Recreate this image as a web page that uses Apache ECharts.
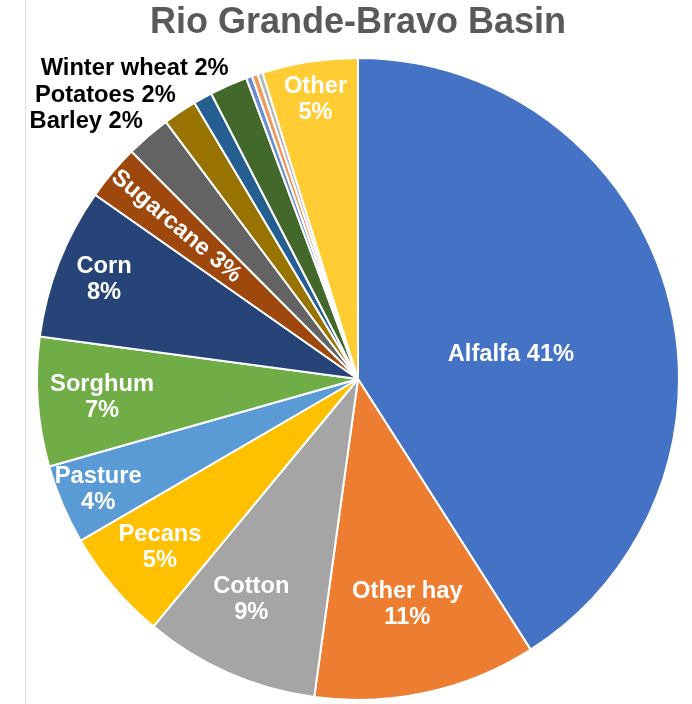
<!DOCTYPE html>
<html>
<head>
<meta charset="utf-8">
<script src="https://cdn.jsdelivr.net/npm/echarts@6/dist/echarts.min.js"></script>
<style>html,body{margin:0;padding:0;background:#fff;}#c{width:692px;height:704px;}</style>
</head>
<body>
<div id="c"></div>
<script>
// Data (clockwise from 12 o'clock)
const categories = ['Alfalfa','Other hay','Cotton','Pecans','Pasture','Sorghum','Corn','Sugarcane','Barley','Potatoes','Minor crop A','Winter wheat','Minor crop B','Minor crop C','Minor crop D','Other'];
const shares     = [40.9, 11.2, 8.8, 5.6, 4.0, 6.5, 7.6, 2.8, 2.25, 1.7, 0.95, 1.9, 0.3, 0.3, 0.25, 4.8];
const shownPct   = [41, 11, 9, 5, 4, 7, 8, 3, 2, 2, null, 2, null, null, null, 5];
const colors     = ['#4472C4','#ED7D31','#A5A5A5','#FFC000','#5B9BD5','#70AD47','#264478','#9E480E','#636363','#997300','#255E91','#43682B','#698ED0','#F1975A','#B7B7B7','#FFCD33'];
const titleText  = 'Rio Grande-Bravo Basin';

// ---- styling / layout config ----
const FONT = '"Liberation Sans", Arial, Helvetica, sans-serif';
const R = 321, CENTER = [358, 379];
const centerLabel = ['Alfalfa'];
const outsideLabel = ['Barley','Potatoes','Winter wheat'];
const oneLine = ['Alfalfa','Sugarcane','Barley','Potatoes','Winter wheat'];
const radialLabel = ['Sugarcane'];
// fraction of the radius where each inner label sits
const labelRadius = { 'Other hay': 0.71, 'Cotton': 0.74, 'Pecans': 0.8, 'Pasture': 0.87, 'Sorghum': 0.79, 'Corn': 0.84, 'Sugarcane': 0.73, 'Other': 0.87 };
// small label nudges (px) for labels placed by the library
const labelNudge = { 'Alfalfa': [-4, 21], 'Winter wheat': [6, -15], 'Potatoes': [2, -15], 'Barley': [1, -13] };
const ringNudge = { 'Cotton': [-10, 0] };

function labelText(i){
  if (shownPct[i] == null) return '';
  const n = categories[i];
  return oneLine.indexOf(n) >= 0 ? (n + ' ' + shownPct[i] + '%') : (n + '\n' + shownPct[i] + '%');
}
const labelBase = { fontFamily: FONT, fontSize: 23.7, fontWeight: 'bold', lineHeight: 26, formatter: p => labelText(p.dataIndex) };

const baseData = categories.map((n, i) => {
  const d = { name: n, value: shares[i], itemStyle: { color: colors[i] } };
  if (centerLabel.indexOf(n) >= 0) {
    d.label = { show: true, position: 'inside', color: '#fff' };
  } else if (outsideLabel.indexOf(n) >= 0) {
    d.label = { show: true, position: 'outside', color: '#000' };
  } else {
    d.label = { show: false };
  }
  return d;
});

function nudgeFn(map){
  return p => {
    const nd = map[categories[p.dataIndex]] || [0, 0];
    return { dx: nd[0], dy: nd[1], hideOverlap: false };
  };
}

const series = [{
  type: 'pie', center: CENTER, radius: [0, R], startAngle: 90, clockwise: true,
  avoidLabelOverlap: false, silent: true,
  labelLayout: nudgeFn(labelNudge),
  itemStyle: { borderColor: '#fff', borderWidth: 2 },
  label: labelBase,
  labelLine: { show: false, length: 2, length2: 0 },
  data: baseData
}];

// transparent label rings: one per distinct label radius
const fracs = [];
Object.keys(labelRadius).forEach(k => { if (fracs.indexOf(labelRadius[k]) < 0) fracs.push(labelRadius[k]); });
fracs.forEach(f => {
  series.push({
    type: 'pie', center: CENTER, radius: [R * (2 * f - 1), R], startAngle: 90, clockwise: true,
    avoidLabelOverlap: false, silent: true,
    labelLayout: nudgeFn(ringNudge),
    itemStyle: { borderWidth: 0 },
    label: labelBase,
    labelLine: { show: false },
    data: categories.map((n, i) => {
      const show = labelRadius[n] === f && shownPct[i] != null;
      const d = { name: n, value: shares[i], itemStyle: { color: 'rgba(0,0,0,0)' },
        label: { show: show, position: 'inside', color: '#fff' } };
      if (radialLabel.indexOf(n) >= 0) d.label.rotate = 'radial';
      return d;
    })
  });
});

const chart = echarts.init(document.getElementById('c'), null, { renderer: 'canvas' });
chart.setOption({
  animation: false,
  backgroundColor: '#fff',
  title: {
    text: titleText, left: 353, top: 0, textAlign: 'center',
    textStyle: { fontFamily: FONT, fontSize: 36, fontWeight: 'bold', color: '#595959' }
  },
  graphic: [{ type: 'line', shape: { x1: 25.5, y1: 0, x2: 25.5, y2: 704 }, style: { stroke: '#dcdcdc', lineWidth: 1 }, silent: true }],
  series: series
});
</script>
</body>
</html>
